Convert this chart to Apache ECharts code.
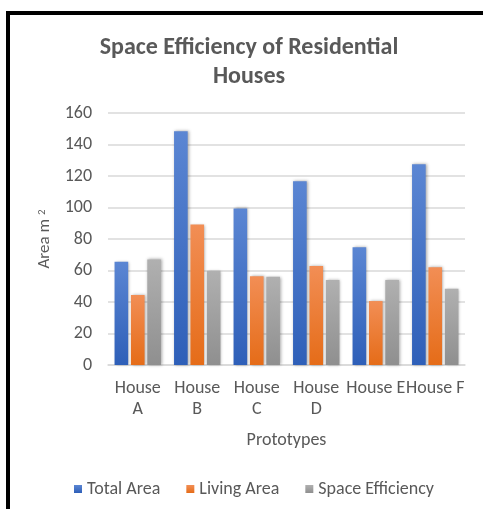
<!DOCTYPE html>
<html><head><meta charset="utf-8">
<script src="https://cdn.jsdelivr.net/npm/echarts@6/dist/echarts.min.js"></script>
<style>html,body{margin:0;padding:0;background:#fff;}#frame{position:absolute;left:6px;top:11px;width:477px;height:498px;border-left:4px solid #000;border-top:4px solid #000;box-sizing:border-box;}#c{position:absolute;left:0;top:0;width:483px;height:509px;}</style>
</head><body><div id="frame"></div><div id="c"></div>
<script>
const categories = ["House A", "House B", "House C", "House D", "House E", "House F"];
const totalArea = [65.5, 148.4, 99.4, 116.7, 74.8, 127.5];
const livingArea = [44.4, 89.2, 56.4, 62.8, 40.6, 62.1];
const spaceEfficiency = [67.0, 59.8, 56.0, 53.9, 53.9, 48.4];
const seriesNames = ["Total Area", "Living Area", "Space Efficiency"];

function grad(top, bottom) {
  return new echarts.graphic.LinearGradient(0, 0, 0, 1, [{offset: 0, color: top}, {offset: 1, color: bottom}]);
}
const font = "Calibri, Carlito, 'Open Sans', 'Liberation Sans', sans-serif";
const chart = echarts.init(document.getElementById('c'));
const barStyle = (t, b) => ({color: grad(t, b), shadowBlur: 3, shadowColor: 'rgba(0,0,0,0.35)', shadowOffsetX: 1, shadowOffsetY: 0});
chart.setOption({
  animation: false,
  title: {
    text: "Space Efficiency of Residential\nHouses",
    left: 244, textAlign: 'center', top: 28,
    textStyle: {fontFamily: font, fontSize: 24, fontWeight: 'bold', color: '#595959', lineHeight: 29}
  },
  legend: {
    data: seriesNames, bottom: 6, left: 69, itemWidth: 8, itemHeight: 8, itemGap: 26,
    icon: 'rect',
    textStyle: {fontFamily: font, fontSize: 18, color: '#595959'}
  },
  grid: {left: 108, right: 18, top: 113, bottom: 144, containLabel: false},
  xAxis: {
    type: 'category', data: categories,
    name: 'Prototypes', nameLocation: 'middle', nameGap: 66,
    nameTextStyle: {fontFamily: font, fontSize: 18, color: '#595959'},
    axisLine: {lineStyle: {color: '#d9d9d9', width: 1.5}},
    axisTick: {show: false},
    axisLabel: {
      fontFamily: font, fontSize: 18, color: '#595959', lineHeight: 21, margin: 13, interval: 0,
      formatter: (v, i) => i < 4 ? v.replace(' ', '\n') : v
    }
  },
  yAxis: {
    type: 'value', min: 0, max: 160, interval: 20,
    name: 'Area m{sup|2}', nameLocation: 'middle', nameGap: 54, nameRotate: 90,
    nameTextStyle: {fontFamily: font, fontSize: 17, color: '#595959',
      rich: {sup: {fontFamily: font, fontSize: 11, color: '#595959', verticalAlign: 'top', padding: [0, 0, 6, 4]}}},
    axisLine: {show: false}, axisTick: {show: false},
    axisLabel: {fontFamily: font, fontSize: 18, color: '#595959', margin: 16},
    splitLine: {lineStyle: {color: '#d9d9d9', width: 1.5}}
  },
  series: [
    {name: seriesNames[0], type: 'bar', data: totalArea, barGap: '20%', barCategoryGap: '22%',
     itemStyle: barStyle('#5b86d3', '#2e5fb8'), color: '#4472C4'},
    {name: seriesNames[1], type: 'bar', data: livingArea,
     itemStyle: barStyle('#f28e55', '#e56c18'), color: '#ED7D31'},
    {name: seriesNames[2], type: 'bar', data: spaceEfficiency,
     itemStyle: barStyle('#b0b0b0', '#8f8f8f'), color: '#A5A5A5'}
  ]
});
</script></body></html>
